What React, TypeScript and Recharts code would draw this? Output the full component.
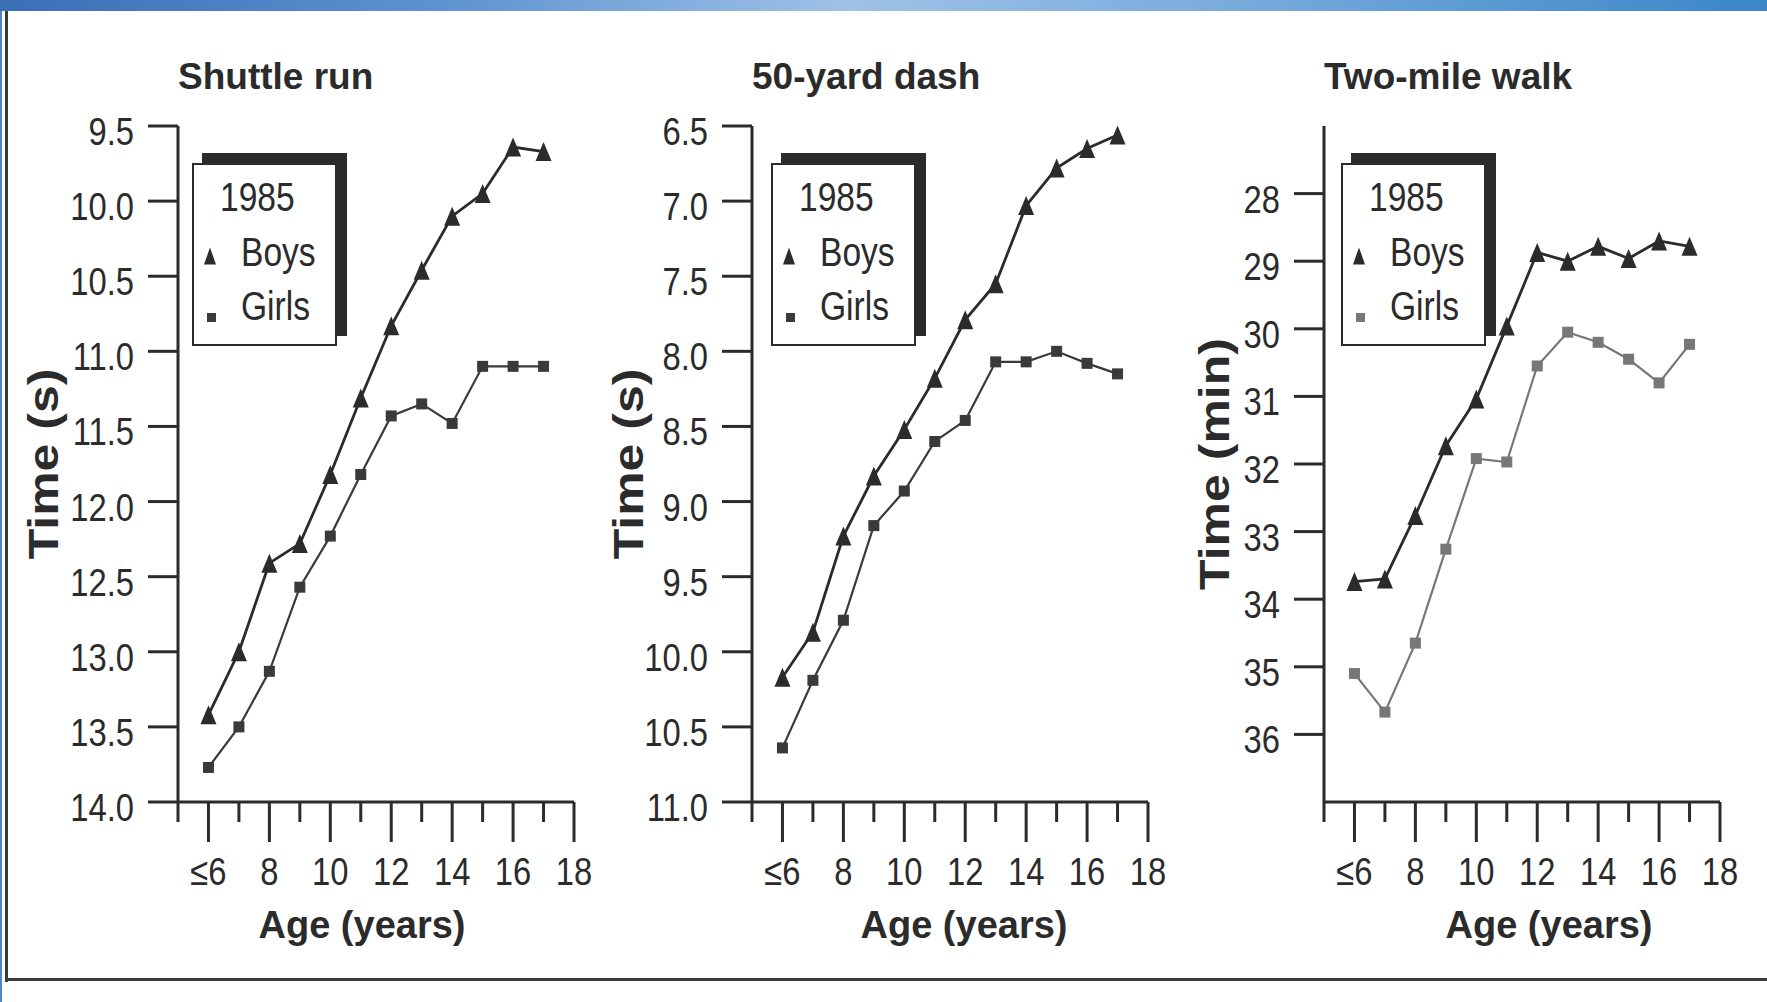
import React from 'react';
import { LineChart, Line, XAxis, YAxis, Legend } from 'recharts';

// ages on the x axis, ≤6 is the first group
const ages = [6, 7, 8, 9, 10, 11, 12, 13, 14, 15, 16, 17];
const ageTicks = [5, 6, 7, 8, 9, 10, 11, 12, 13, 14, 15, 16, 17, 18];

const shuttleBoys = [13.42, 13.0, 12.41, 12.28, 11.82, 11.31, 10.83, 10.46, 10.1, 9.95, 9.64, 9.67];
const shuttleGirls = [13.77, 13.5, 13.13, 12.57, 12.23, 11.82, 11.43, 11.35, 11.48, 11.1, 11.1, 11.1];
const shuttleTicks = [9.5, 10.0, 10.5, 11.0, 11.5, 12.0, 12.5, 13.0, 13.5, 14.0];

const dashBoys = [10.17, 9.87, 9.23, 8.83, 8.52, 8.18, 7.79, 7.55, 7.03, 6.78, 6.65, 6.56];
const dashGirls = [10.64, 10.19, 9.79, 9.16, 8.93, 8.6, 8.46, 8.07, 8.07, 8.0, 8.08, 8.15];
const dashTicks = [6.5, 7.0, 7.5, 8.0, 8.5, 9.0, 9.5, 10.0, 10.5, 11.0];

const walkBoys = [33.74, 33.7, 32.76, 31.73, 31.04, 29.96, 28.87, 29.0, 28.78, 28.96, 28.7, 28.78];
const walkGirls = [35.1, 35.67, 34.65, 33.26, 31.92, 31.97, 30.55, 30.05, 30.2, 30.45, 30.8, 30.23];
const walkTicks = [28, 29, 30, 31, 32, 33, 34, 35, 36];

const FONT = '"Liberation Sans", Arial, Helvetica, sans-serif';
const INK = '#2b2b2b';
const SQUEEZE = 0.84;

const PLOT_TOP = 126;
const PLOT_BOTTOM = 802;
const PLOT_W = 396;
const LEFT_PAD = 170;
const RIGHT_PAD = 60;
const CHART_H = 1002;

const panels = [
  {
    title: 'Shuttle run', yLabel: 'Time (s)', plotLeft: 178, domain: [9.5, 14], ticks: shuttleTicks,
    decimals: 1, boys: shuttleBoys, girls: shuttleGirls, girlsColor: '#3a3a3a',
    legendDx: 14, yLabelDx: -135, ageCx: 362,
  },
  {
    title: '50-yard dash', yLabel: 'Time (s)', plotLeft: 752, domain: [6.5, 11], ticks: dashTicks,
    decimals: 1, boys: dashBoys, girls: dashGirls, girlsColor: '#3a3a3a',
    legendDx: 19, yLabelDx: -124, ageCx: 964,
  },
  {
    title: 'Two-mile walk', yLabel: 'Time (min)', plotLeft: 1324, domain: [27, 37], ticks: walkTicks,
    decimals: 0, boys: walkBoys, girls: walkGirls, girlsColor: '#777777',
    legendDx: 17, yLabelDx: -110, ageCx: 1549,
  },
];

const triPath = (cx: number, cy: number, w: number, h: number) =>
  `M${cx},${cy - h / 2} L${cx + w / 2},${cy + h / 2} L${cx - w / 2},${cy + h / 2} Z`;

const boysDot = (p: any) => {
  if (p.cx == null || p.cy == null) return <g key={`b${p.index}`} />;
  return <path key={`b${p.index}`} d={triPath(p.cx, p.cy, 16, 19)} fill={INK} />;
};

const girlsDot = (color: string) => (p: any) => {
  if (p.cx == null || p.cy == null) return <g key={`g${p.index}`} />;
  return <rect key={`g${p.index}`} x={p.cx - 5.5} y={p.cy - 5.5} width={11} height={11} fill={color} />;
};

const SqueezedText = ({ x, y, anchor, size, children, weight }: any) => (
  <g transform={`translate(${x},${y}) scale(${SQUEEZE},1)`}>
    <text x={0} y={0} textAnchor={anchor} fontFamily={FONT} fontSize={size} fontWeight={weight || 400} fill={INK}>
      {children}
    </text>
  </g>
);

const XTick = (props: any) => {
  const { x, y, payload } = props;
  const v = payload.value;
  const major = v % 2 === 0;
  return (
    <g>
      <line x1={x} x2={x} y1={y} y2={y + (major ? 40 : 20)} stroke={INK} strokeWidth={3} />
      {major && (
        <SqueezedText x={x} y={y + 83} anchor="middle" size={39}>
          {v === 6 ? '≤6' : String(v)}
        </SqueezedText>
      )}
    </g>
  );
};

const makeYTick = (decimals: number) => (props: any) => {
  const { x, y, payload } = props;
  return (
    <g>
      <line x1={x - 30} x2={x} y1={y} y2={y} stroke={INK} strokeWidth={3} />
      <SqueezedText x={x - 44} y={y + 19} anchor="end" size={39}>
        {payload.value.toFixed(decimals)}
      </SqueezedText>
    </g>
  );
};

const LegendBox = ({ girlsColor }: { girlsColor: string }) => (
  <div
    style={{
      width: 145, height: 183, boxSizing: 'border-box', border: `2.5px solid ${INK}`,
      background: '#fff', boxShadow: `10px -10px 0 ${INK}`,
    }}
  >
    <svg width={140} height={178} style={{ display: 'block' }}>
      <SqueezedText x={26} y={46} anchor="start" size={40}>1985</SqueezedText>
      <path d={triPath(16, 91, 12, 17)} fill={INK} />
      <SqueezedText x={47} y={101} anchor="start" size={40}>Boys</SqueezedText>
      <rect x={13} y={148} width={9} height={9} fill={girlsColor} />
      <SqueezedText x={47} y={155} anchor="start" size={40}>Girls</SqueezedText>
    </svg>
  </div>
);

const Panel = ({ cfg }: { cfg: (typeof panels)[number] }) => {
  const data = ages.map((age, i) => ({ age, boys: cfg.boys[i], girls: cfg.girls[i] }));
  const chartLeft = cfg.plotLeft - LEFT_PAD;
  const midY = (PLOT_TOP + PLOT_BOTTOM) / 2;
  return (
    <>
      <div
        style={{
          position: 'absolute', left: cfg.plotLeft, top: 58, fontFamily: FONT, fontWeight: 700,
          fontSize: 37, lineHeight: '37px', color: INK, whiteSpace: 'nowrap',
        }}
      >
        {cfg.title}
      </div>
      <div style={{ position: 'absolute', left: chartLeft, top: 0 }}>
        <LineChart
          width={LEFT_PAD + PLOT_W + RIGHT_PAD}
          height={CHART_H}
          data={data}
          margin={{ top: PLOT_TOP, right: RIGHT_PAD, bottom: 0, left: 20 }}
        >
          <XAxis
            dataKey="age"
            type="number"
            domain={[5, 18]}
            ticks={ageTicks}
            interval={0}
            allowDataOverflow
            height={CHART_H - PLOT_BOTTOM}
            tickLine={false}
            tickSize={0}
            tickMargin={0}
            tick={XTick}
            axisLine={{ stroke: INK, strokeWidth: 3 }}
            label={{
              content: () => (
                <text
                  x={cfg.ageCx - chartLeft}
                  y={938}
                  textAnchor="middle"
                  fontFamily={FONT}
                  fontWeight={700}
                  fontSize={38}
                  fill={INK}
                >
                  Age (years)
                </text>
              ),
            }}
          />
          <YAxis
            type="number"
            domain={cfg.domain}
            ticks={cfg.ticks}
            interval={0}
            reversed
            allowDataOverflow
            width={150}
            tickLine={false}
            tickSize={0}
            tickMargin={0}
            tick={makeYTick(cfg.decimals)}
            axisLine={{ stroke: INK, strokeWidth: 3 }}
            label={{
              content: () => (
                <text
                  transform={`translate(${LEFT_PAD + cfg.yLabelDx + 15},${midY}) scale(${SQUEEZE},1) rotate(-90)`}
                  textAnchor="middle"
                  fontFamily={FONT}
                  fontWeight={700}
                  fontSize={50}
                  fill={INK}
                >
                  {cfg.yLabel}
                </text>
              ),
            }}
          />
          <Legend
            layout="vertical"
            align="center"
            verticalAlign="middle"
            wrapperStyle={{ left: LEFT_PAD + cfg.legendDx, top: 163, width: 145, height: 183 }}
            content={() => <LegendBox girlsColor={cfg.girlsColor} />}
          />
          <Line
            dataKey="boys"
            name="Boys"
            type="linear"
            stroke={INK}
            strokeWidth={2.8}
            dot={boysDot}
            activeDot={false}
            isAnimationActive={false}
          />
          <Line
            dataKey="girls"
            name="Girls"
            type="linear"
            stroke={cfg.girlsColor}
            strokeWidth={2.2}
            dot={girlsDot(cfg.girlsColor)}
            activeDot={false}
            isAnimationActive={false}
          />
        </LineChart>
      </div>
    </>
  );
};

export default function App() {
  return (
    <div
      style={{
        position: 'absolute', left: 0, top: 0, width: 1767, height: 1002, background: '#fff',
        overflow: 'hidden',
      }}
    >
      {/* slide frame */}
      <div
        style={{
          position: 'absolute', left: 0, top: 0, width: 1767, height: 11,
          background: 'linear-gradient(90deg, #3a6fb6 0%, #5d93d0 25%, #9fc2e6 48%, #78abdc 70%, #3a86c8 100%)',
        }}
      />
      <div style={{ position: 'absolute', left: 0, top: 11, width: 2, height: 991, background: '#4f86c6' }} />
      <div style={{ position: 'absolute', left: 5, top: 11, width: 3, height: 971, background: '#3a3a3a' }} />
      <div style={{ position: 'absolute', left: 5, top: 978, width: 1762, height: 3, background: '#3a3a3a' }} />
      {panels.map((p) => (
        <Panel key={p.title} cfg={p} />
      ))}
    </div>
  );
}
